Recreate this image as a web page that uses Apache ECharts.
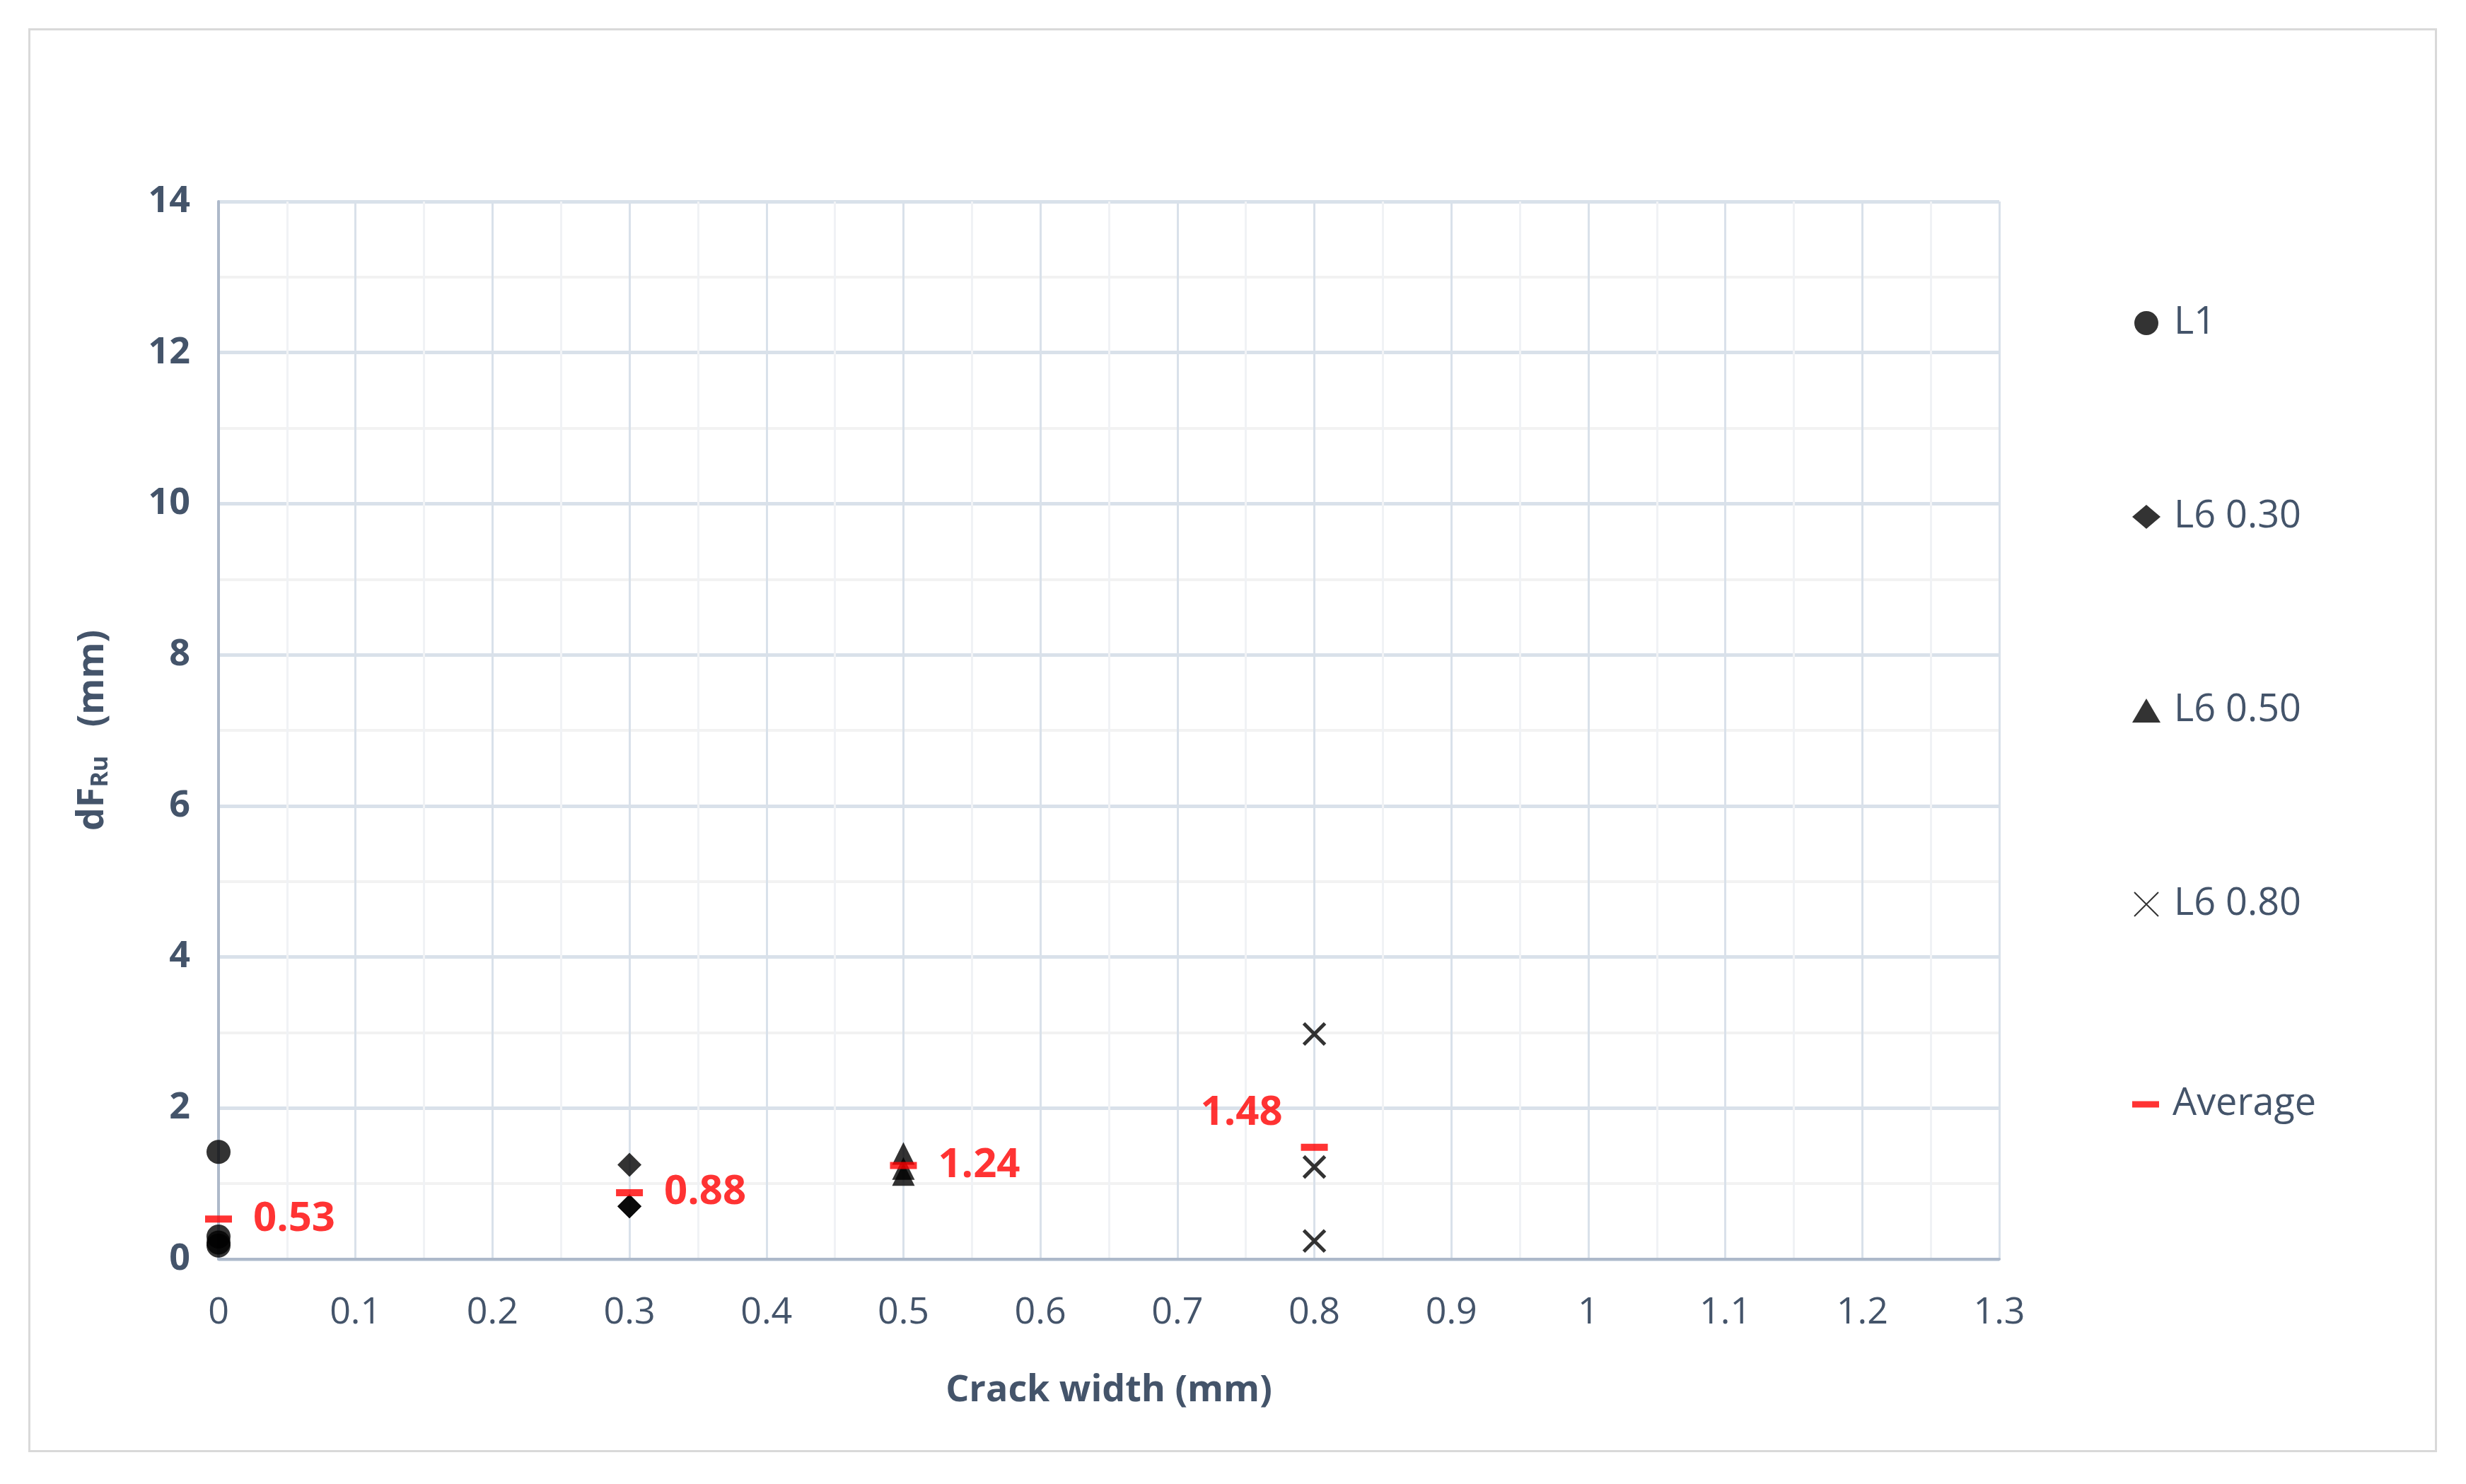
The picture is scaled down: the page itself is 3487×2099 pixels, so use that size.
<!DOCTYPE html>
<html><head><meta charset="utf-8">
<script src="https://cdn.jsdelivr.net/npm/echarts@6/dist/echarts.min.js"></script>
<style>html,body{margin:0;background:#fff}#c{width:3487px;height:2099px}
#box{position:absolute;left:40px;top:40px;width:3400px;height:2008px;border:3px solid #d9d9d9}</style>
</head><body><div id="box"></div><div id="c"></div>
<script>
var xL1=[0,0,0,0];
var yL1=[1.42,0.3,0.22,0.18];
var x030=[0.3,0.3,0.3];
var y030=[1.25,0.7,0.7];
var x050=[0.5,0.5,0.5];
var y050=[1.4,1.12,1.2];
var x080=[0.8,0.8,0.8];
var y080=[2.98,1.22,0.24];
var xAvg=[0,0.3,0.5,0.8];
var yAvg=[0.53,0.88,1.24,1.48];
var avgPos=['right','right','right','left'];

function pairs(xs,ys){return xs.map(function(x,i){return [x,ys[i]];});}
var txt='#44546a',font='"Open Sans", "Liberation Sans", sans-serif';
var chart=echarts.init(document.getElementById('c'));
var sym=function(name,shape,xs,ys,size){
  return {name:name,type:'scatter',symbol:shape,symbolSize:size,data:pairs(xs,ys),
    itemStyle:{color:'#000'},z:3};
};
var cross='path://M0,0L10,10M10,0L0,10';
var legendText={fontSize:54,color:txt,fontFamily:font,padding:[0,0,0,14]};
chart.setOption({
  animation:false,
  textStyle:{fontFamily:font},
  grid:{left:309,right:3487-2827,top:285,bottom:2099-1781},
  legend:[
    {orient:'vertical',left:3010,top:425,itemGap:220,itemWidth:40,itemHeight:34,
      textStyle:legendText,data:['L1','L6 0.30','L6 0.50','L6 0.80']},
    {orient:'vertical',left:3010,top:1530,itemWidth:38,itemHeight:9,icon:'rect',
      textStyle:legendText,data:['Average']}
  ],
  xAxis:{type:'value',min:0,max:1.3,interval:0.1,name:'Crack width (mm)',nameLocation:'middle',nameGap:160,
    nameTextStyle:{fontSize:52,fontWeight:'bold',color:txt},
    axisLine:{lineStyle:{color:'#adb9ca',width:4}},axisTick:{show:false},
    axisLabel:{fontSize:52,color:txt,margin:50,formatter:function(v){return +v.toFixed(1)+'';}},
    splitLine:{lineStyle:{color:'#d9e1ea',width:3}},
    minorTick:{show:false,splitNumber:2},minorSplitLine:{show:true,lineStyle:{color:'#f0f2f5',width:3}}},
  yAxis:{type:'value',min:0,max:14,interval:2,name:'{a|dF}{s|Ru}{a|   (mm)}',nameLocation:'middle',nameGap:150,
    nameTextStyle:{rich:{a:{fontSize:52,fontWeight:'bold',color:txt},s:{fontSize:34,fontWeight:'bold',color:txt,verticalAlign:'bottom',padding:[22,0,0,0]}}},
    axisLine:{show:true,lineStyle:{color:'#adb9ca',width:4}},axisTick:{show:false},
    axisLabel:{fontSize:52,color:txt,margin:40,fontWeight:'bold'},
    splitLine:{lineStyle:{color:'#d9e1ea',width:5}},
    minorTick:{show:false,splitNumber:2},minorSplitLine:{show:true,lineStyle:{color:'#f2f2f2',width:4}}},
  series:[
    sym('L1','circle',xL1,yL1,34),
    sym('L6 0.30','diamond',x030,y030,34),
    sym('L6 0.50','triangle',x050,y050,32),
    {name:'L6 0.80',type:'scatter',symbol:cross,symbolSize:30,data:pairs(x080,y080),
      itemStyle:{color:'none',borderColor:'#000',borderWidth:5},z:3},
    {name:'Average',type:'scatter',symbol:'rect',symbolSize:[38,10],itemStyle:{color:'#ff0000'},z:4,
      data:xAvg.map(function(x,i){return {value:[x,yAvg[i]],label:{position:avgPos[i],offset:avgPos[i]==='left'?[-10,-48]:[14,0]}};}),
      label:{show:true,fontSize:58,fontWeight:'bold',color:'#ff0000',distance:16,formatter:function(p){return p.value[1].toFixed(2);}}}
  ]
});
</script></body></html>
